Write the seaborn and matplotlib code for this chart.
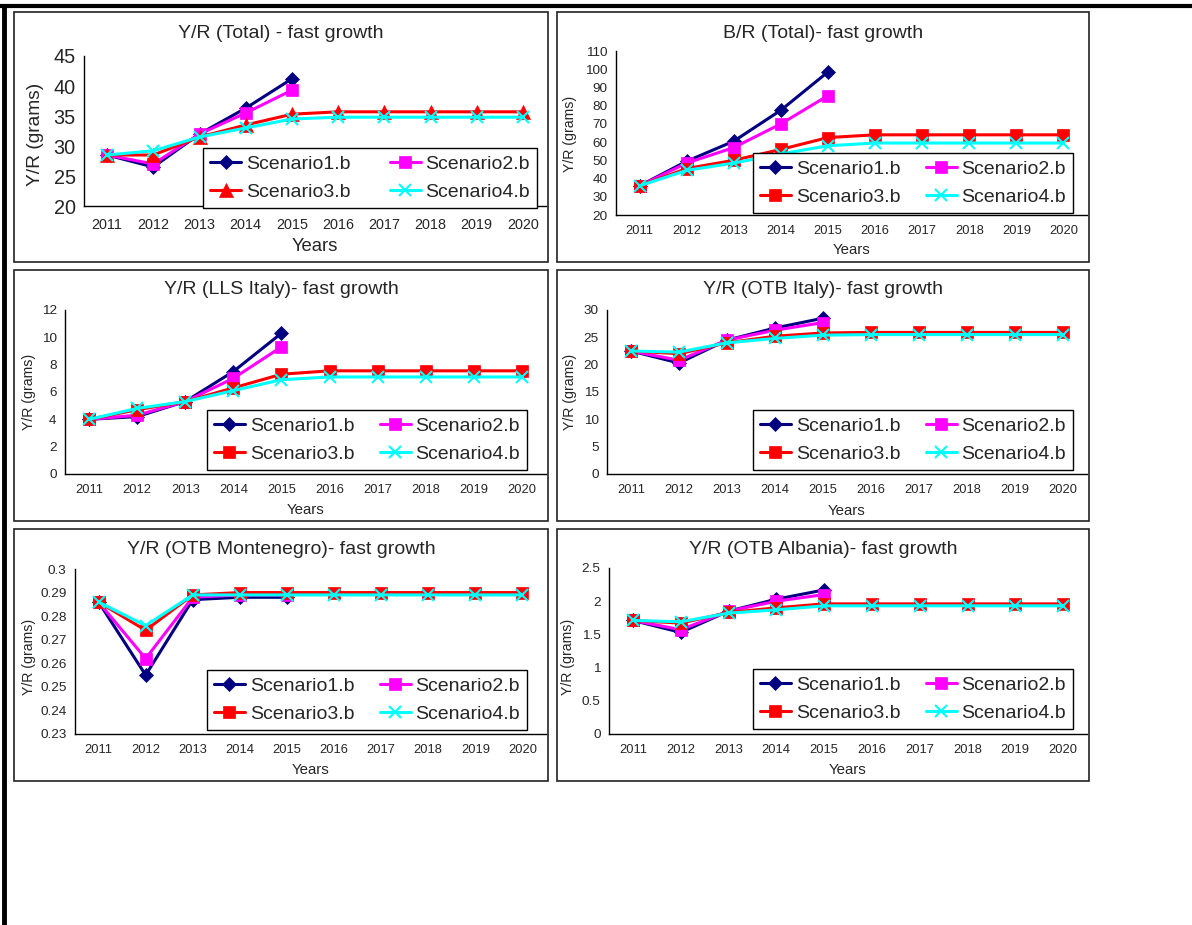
import matplotlib
matplotlib.use("Agg")
import matplotlib.pyplot as plt
import numpy as np
import pandas as pd
import seaborn as sns
from matplotlib.lines import Line2D
from matplotlib.patches import Rectangle
from matplotlib.ticker import FuncFormatter

YEARS = [2011, 2012, 2013, 2014, 2015, 2016, 2017, 2018, 2019, 2020]
SCENARIOS = ["Scenario1.b", "Scenario2.b", "Scenario3.b", "Scenario4.b"]

# Y/R (Total)
TOTAL_S1 = [28.5, 26.5, 32.0, 36.3, 41.2]
TOTAL_S2 = [28.5, 27.0, 32.0, 35.5, 39.3]
TOTAL_S3 = [28.5, 28.5, 31.5, 33.5, 35.3, 35.7, 35.7, 35.7, 35.7, 35.7]
TOTAL_S4 = [28.5, 29.2, 31.5, 33.0, 34.5, 34.8, 34.8, 34.8, 34.8, 34.8]

# B/R (Total)
BR_S1 = [36.0, 49.5, 60.5, 77.5, 98.5]
BR_S2 = [36.0, 48.5, 57.0, 70.0, 85.5]
BR_S3 = [36.0, 45.5, 50.0, 56.0, 62.5, 64.0, 64.0, 64.0, 64.0, 64.0]
BR_S4 = [36.0, 44.5, 48.5, 53.5, 58.0, 59.5, 59.5, 59.5, 59.5, 59.5]

# Y/R (LLS Italy)
LLS_S1 = [4.0, 4.2, 5.3, 7.5, 10.3]
LLS_S2 = [4.0, 4.3, 5.3, 7.0, 9.3]
LLS_S3 = [4.0, 4.7, 5.3, 6.3, 7.3, 7.55, 7.55, 7.55, 7.55, 7.55]
LLS_S4 = [4.0, 4.8, 5.3, 6.1, 6.9, 7.1, 7.1, 7.1, 7.1, 7.1]

# Y/R (OTB Italy)
OTBI_S1 = [22.5, 20.3, 24.5, 26.7, 28.5]
OTBI_S2 = [22.5, 20.8, 24.5, 26.3, 27.7]
OTBI_S3 = [22.5, 22.0, 24.0, 25.2, 25.8, 25.9, 25.9, 25.9, 25.9, 25.9]
OTBI_S4 = [22.5, 22.3, 24.0, 24.8, 25.4, 25.5, 25.5, 25.5, 25.5, 25.5]

# Y/R (OTB Montenegro)
OTBM_S1 = [0.286, 0.255, 0.287, 0.288, 0.288]
OTBM_S2 = [0.286, 0.262, 0.288, 0.289, 0.289]
OTBM_S3 = [0.286, 0.274, 0.289, 0.290, 0.290, 0.290, 0.290, 0.290, 0.290, 0.290]
OTBM_S4 = [0.286, 0.276, 0.289, 0.289, 0.289, 0.289, 0.289, 0.289, 0.289, 0.289]

# Y/R (OTB Albania)
OTBA_S1 = [1.71, 1.53, 1.85, 2.03, 2.17]
OTBA_S2 = [1.71, 1.57, 1.85, 2.00, 2.10]
OTBA_S3 = [1.71, 1.67, 1.83, 1.90, 1.96, 1.96, 1.96, 1.96, 1.96, 1.96]
OTBA_S4 = [1.71, 1.69, 1.82, 1.87, 1.93, 1.93, 1.93, 1.93, 1.93, 1.93]

COLORS = {"Scenario1.b": "#000080", "Scenario2.b": "#FF00FF",
          "Scenario3.b": "#FF0000", "Scenario4.b": "#00FFFF"}

W, H = 1192, 925


def px_rect(x0, y0, x1, y1):
    return [x0 / W, 1 - y1 / H, (x1 - x0) / W, (y1 - y0) / H]


def long_frame(series):
    rows = []
    for name, vals in zip(SCENARIOS, series):
        for i, v in enumerate(vals):
            rows.append({"pos": i, "value": v, "scenario": name})
    return pd.DataFrame(rows)


# layout per panel, all in pixels of the 1192x925 page
PANELS = [
    dict(title="Y/R (Total) - fast growth", series=[TOTAL_S1, TOTAL_S2, TOTAL_S3, TOTAL_S4],
         ylim=(20, 45), step=5, ax=(84, 56, 546, 206), box=(14, 12, 548, 262),
         leg=(537, 208), title_y=33, ylab=(36, 134), xlab_y=247, big=True, m3="^"),
    dict(title="B/R (Total)- fast growth", series=[BR_S1, BR_S2, BR_S3, BR_S4],
         ylim=(20, 110), step=10, ax=(616, 51, 1087, 215), box=(557, 12, 1089, 262),
         leg=(1073, 213), title_y=33, ylab=(570, 134), xlab_y=250, big=False, m3="s"),
    dict(title="Y/R (LLS Italy)- fast growth", series=[LLS_S1, LLS_S2, LLS_S3, LLS_S4],
         ylim=(0, 12), step=2, ax=(65, 310, 546, 474), box=(14, 270, 548, 521),
         leg=(527, 470), title_y=290, ylab=(29, 392), xlab_y=510, big=False, m3="s"),
    dict(title="Y/R (OTB Italy)- fast growth", series=[OTBI_S1, OTBI_S2, OTBI_S3, OTBI_S4],
         ylim=(0, 30), step=5, ax=(607, 310, 1087, 474), box=(557, 270, 1089, 521),
         leg=(1073, 470), title_y=290, ylab=(570, 392), xlab_y=511, big=False, m3="s"),
    dict(title="Y/R (OTB Montenegro)- fast growth", series=[OTBM_S1, OTBM_S2, OTBM_S3, OTBM_S4],
         ylim=(0.23, 0.30), step=0.01, ax=(75, 569, 546, 734), box=(14, 529, 548, 781),
         leg=(527, 730), title_y=549, ylab=(29, 657), xlab_y=770, big=False, m3="s"),
    dict(title="Y/R (OTB Albania)- fast growth", series=[OTBA_S1, OTBA_S2, OTBA_S3, OTBA_S4],
         ylim=(0, 2.5), step=0.5, ax=(609, 568, 1087, 734), box=(557, 529, 1089, 781),
         leg=(1073, 729), title_y=549, ylab=(568, 657), xlab_y=770, big=False, m3="s"),
]

sns.set_style("white")
plt.rcParams["font.family"] = ["Liberation Sans", "DejaVu Sans"]

fig = plt.figure(figsize=(W / 100, H / 100), dpi=100)

# page frame lines
fig.add_artist(Line2D([0, 1], [1 - 6 / H, 1 - 6 / H], color="black", lw=3.0,
                      transform=fig.transFigure))
fig.add_artist(Line2D([4 / W, 4 / W], [0, 1 - 6 / H], color="black", lw=3.5,
                      transform=fig.transFigure))

for p in PANELS:
    bx0, by0, bx1, by1 = p["box"]
    fig.add_artist(Rectangle((bx0 / W, 1 - by1 / H), (bx1 - bx0) / W, (by1 - by0) / H,
                             transform=fig.transFigure, fill=False,
                             edgecolor="#222222", lw=1.2))

    ax = fig.add_axes(px_rect(*p["ax"]))
    df = long_frame(p["series"])
    markers = {"Scenario1.b": "D", "Scenario2.b": "s",
               "Scenario3.b": p["m3"], "Scenario4.b": "X"}
    sns.lineplot(data=df, x="pos", y="value", hue="scenario", style="scenario",
                 hue_order=SCENARIOS, style_order=SCENARIOS, palette=COLORS,
                 markers=markers, dashes=False, errorbar=None, legend=False,
                 lw=2.2, ax=ax)

    sizes = {"D": 7.5, "s": 8.5, "^": 9.5}
    for line, name in zip(ax.lines, SCENARIOS):
        mk = markers[name]
        line.set_markeredgecolor(COLORS[name])
        line.set_markerfacecolor(COLORS[name])
        if name == "Scenario4.b":
            line.set_marker("x")
            line.set_markeredgewidth(1.5)
            line.set_markersize(9)
        else:
            line.set_markeredgewidth(0.5)
            line.set_markersize(sizes[mk])

    big = p["big"]
    ytick_fs = 14.3 if big else 9.7
    xtick_fs = 10.4 if big else 9.3
    ylab_fs = 13.8 if big else 10.2
    xlab_fs = 13.3 if big else 10.8

    ax.set_xlim(-0.5, 9.5)
    ax.set_xticks(range(len(YEARS)))
    ax.set_xticklabels([str(y) for y in YEARS], fontsize=xtick_fs)
    ax.set_xticks(np.arange(-0.5, 10, 1), minor=True)
    ax.tick_params(axis="x", which="major", length=0, pad=8.5 if big else 7)
    ax.tick_params(axis="x", which="minor", length=4, width=1, direction="out",
                   color="black")

    lo, hi = p["ylim"]
    ax.set_ylim(lo, hi)
    ax.set_yticks(np.arange(lo, hi + p["step"] / 2, p["step"]))
    ax.yaxis.set_major_formatter(FuncFormatter(lambda v, _: f"{round(v, 4):g}"))
    ax.tick_params(axis="y", length=4, width=1, direction="out", color="black",
                   labelsize=ytick_fs, pad=2)

    for s in ["top", "right"]:
        ax.spines[s].set_visible(False)
    for s in ["left", "bottom"]:
        ax.spines[s].set_color("black")
        ax.spines[s].set_linewidth(1.0)
    ax.set_xlabel("")
    ax.set_ylabel("")
    ax.patch.set_alpha(0)

    cx = (bx0 + bx1) / 2
    fig.text(cx / W, 1 - p["title_y"] / H, p["title"], ha="center", va="center",
             fontsize=14)
    fig.text(p["ylab"][0] / W, 1 - p["ylab"][1] / H, "Y/R (grams)", rotation=90,
             ha="center", va="center", fontsize=ylab_fs)
    axc = (p["ax"][0] + p["ax"][2]) / 2
    fig.text(axc / W, 1 - p["xlab_y"] / H, "Years", ha="center", va="center",
             fontsize=xlab_fs)

    # row-wise legend order: S1 S2 / S3 S4
    order = [0, 2, 1, 3]
    leg = ax.legend([ax.lines[i] for i in order], [SCENARIOS[i] for i in order],
                    ncol=2, loc="lower right",
                    bbox_to_anchor=(p["leg"][0] / W, 1 - p["leg"][1] / H),
                    bbox_transform=fig.transFigure, borderaxespad=0,
                    fontsize=14, frameon=True, fancybox=False, framealpha=1,
                    edgecolor="black", handlelength=1.6, handletextpad=0.25,
                    columnspacing=2.0 if big else 1.3, labelspacing=0.55,
                    borderpad=0.35)
    leg.get_frame().set_linewidth(1.0)

fig.savefig("out.png", dpi=100)
